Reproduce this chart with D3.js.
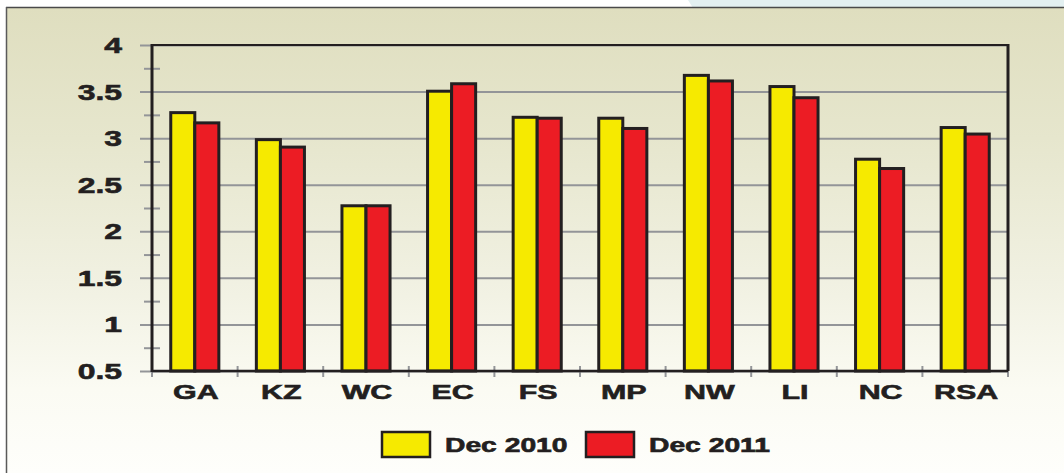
<!doctype html>
<html lang="en">
  <head>
    <meta charset="utf-8">
    <title>Dec 2010 vs Dec 2011 by province</title>
    <script src="https://d3js.org/d3.v7.min.js"></script>
    <style>
      html, body { margin: 0; padding: 0; background: #fff; }
      svg { display: block; }
      text { font-family: 'Liberation Sans', Arial, sans-serif; font-weight: bold; fill: #231f20; stroke: #231f20; stroke-width: 0.6px; }
    </style>
  </head>
  <body>
    <div id="chart"></div>
  <script>
    // data
    const categories = ['GA', 'KZ', 'WC', 'EC', 'FS', 'MP', 'NW', 'LI', 'NC', 'RSA'];
    const seriesNames = ['Dec 2010', 'Dec 2011'];
    const dec2010 = [3.29, 3.00, 2.29, 3.52, 3.24, 3.23, 3.69, 3.57, 2.79, 3.13];
    const dec2011 = [3.18, 2.92, 2.29, 3.60, 3.23, 3.12, 3.63, 3.45, 2.69, 3.06];
    const yMajor = [0.5, 1, 1.5, 2, 2.5, 3, 3.5, 4];
    const yMinor = [0.75, 1.25, 1.75, 2.25, 2.75, 3.25, 3.75];

    const W = 1064, H = 473;
    const plot = { left: 152, right: 1008, top: 45, bottom: 371 };
    const colors = { 'Dec 2010': '#f6ea00', 'Dec 2011': '#ec1c24' };
    const ink = '#231f20';
    const stretch = 1.45; // the lettering in the source is wide

    const svg = d3.select('#chart').append('svg')
      .attr('width', W)
      .attr('height', H);

    // background
    const defs = svg.append('defs');
    const grad = defs.append('linearGradient')
      .attr('id', 'panelGrad')
      .attr('x1', 0).attr('y1', 0).attr('x2', 0).attr('y2', 1);
    [[0, '#dfdebf'], [0.28, '#e6e6cd'], [0.62, '#f2f2e4'], [0.82, '#fbfbf3'], [1, '#fefefb']]
      .forEach(s => grad.append('stop').attr('offset', s[0]).attr('stop-color', s[1]));

    svg.append('rect').attr('width', W).attr('height', H).attr('fill', '#fff');
    svg.append('path')
      .attr('d', 'M688,0 L' + W + ',0 L' + W + ',8 L693,8 Z')
      .attr('fill', '#e3f0f1');
    svg.append('rect')
      .attr('x', 7).attr('y', 8)
      .attr('width', W - 7).attr('height', H - 8)
      .attr('fill', 'url(#panelGrad)');
    svg.append('line')
      .attr('x1', 6).attr('x2', W).attr('y1', 7.5).attr('y2', 7.5)
      .attr('stroke', '#4a4a4a').attr('stroke-width', 1.5);
    svg.append('line')
      .attr('x1', 6.5).attr('x2', 6.5).attr('y1', 7).attr('y2', H)
      .attr('stroke', '#5a5a5a').attr('stroke-width', 1.5);

    // scales
    const x0 = d3.scaleBand()
      .domain(categories)
      .range([plot.left, plot.right])
      .padding(0);
    const x1 = d3.scaleBand()
      .domain(seriesNames)
      .range([0, x0.bandwidth()])
      .paddingInner(0)
      .paddingOuter(0.78);
    const y = d3.scaleLinear()
      .domain([0.5, 4])
      .range([plot.bottom, plot.top]);

    // gridlines + major ticks (axis placed at the right edge, ticks reaching left past the axis)
    const grid = svg.append('g')
      .attr('transform', 'translate(' + plot.right + ',0)')
      .call(d3.axisLeft(y).tickValues(yMajor).tickSize(plot.right - 140).tickFormat(''));
    grid.select('.domain').remove();
    grid.selectAll('.tick line').attr('stroke', '#939598').attr('stroke-width', 2);

    // minor ticks
    const minor = svg.append('g')
      .attr('transform', 'translate(160,0)')
      .call(d3.axisLeft(y).tickValues(yMinor).tickSize(16).tickFormat(''));
    minor.select('.domain').remove();
    minor.selectAll('.tick line').attr('stroke', '#939598').attr('stroke-width', 2);

    // x ticks at band boundaries
    const bounds = categories.map(c => x0(c)).concat([plot.right]);
    svg.append('g').selectAll('line')
      .data(bounds)
      .join('line')
      .attr('x1', d => d).attr('x2', d => d)
      .attr('y1', plot.bottom - 5).attr('y2', plot.bottom + 6)
      .attr('stroke', '#939598').attr('stroke-width', 2);

    // frame
    svg.append('line')
      .attr('x1', plot.left).attr('x2', plot.right + 1)
      .attr('y1', plot.top).attr('y2', plot.top)
      .attr('stroke', ink).attr('stroke-width', 2);
    svg.append('line')
      .attr('x1', plot.right).attr('x2', plot.right)
      .attr('y1', plot.top - 1).attr('y2', plot.bottom)
      .attr('stroke', ink).attr('stroke-width', 3);

    // bars
    const rows = categories.map((c, i) => ({ cat: c, values: [
      { key: seriesNames[0], v: dec2010[i] },
      { key: seriesNames[1], v: dec2011[i] }
    ] }));

    svg.append('g').selectAll('g')
      .data(rows)
      .join('g')
      .attr('transform', d => 'translate(' + x0(d.cat) + ',0)')
      .selectAll('rect')
      .data(d => d.values)
      .join('rect')
      .attr('x', d => x1(d.key))
      .attr('y', d => y(d.v) + 1.5)
      .attr('width', x1.bandwidth())
      .attr('height', d => y(0.5) - y(d.v) - 1.5)
      .attr('fill', d => colors[d.key])
      .attr('stroke', ink)
      .attr('stroke-width', 3);

    // axes lines over the bars
    svg.append('line')
      .attr('x1', plot.left).attr('x2', plot.right)
      .attr('y1', plot.bottom).attr('y2', plot.bottom)
      .attr('stroke', ink).attr('stroke-width', 2.5);
    svg.append('line')
      .attr('x1', plot.left).attr('x2', plot.left)
      .attr('y1', plot.top - 1).attr('y2', plot.bottom + 1)
      .attr('stroke', ink).attr('stroke-width', 3);

    // y labels
    svg.append('g').selectAll('text')
      .data(yMajor)
      .join('text')
      .attr('transform', d => 'translate(122,' + y(d) + ') scale(' + stretch + ',1)')
      .attr('text-anchor', 'end')
      .attr('dy', '0.36em')
      .attr('font-size', 22)
      .text(d => d3.format('~g')(d));

    // x labels
    svg.append('g').selectAll('text')
      .data(categories)
      .join('text')
      .attr('transform', d => 'translate(' + (x0(d) + x0.bandwidth() / 2 + 1) + ',399) scale(' + stretch + ',1)')
      .attr('text-anchor', 'middle')
      .attr('font-size', 21)
      .text(d => d);

    // legend
    const legend = svg.append('g').selectAll('g')
      .data(seriesNames)
      .join('g')
      .attr('transform', (d, i) => 'translate(' + (381 + i * 204) + ',431)');
    legend.append('rect')
      .attr('x', 1).attr('y', 1)
      .attr('width', 48).attr('height', 25)
      .attr('fill', d => colors[d])
      .attr('stroke', ink)
      .attr('stroke-width', 2.5);
    legend.append('text')
      .attr('transform', 'translate(64,21) scale(' + stretch + ',1)')
      .attr('font-size', 19.5)
      .text(d => d);
  </script>
  </body>
</html>
